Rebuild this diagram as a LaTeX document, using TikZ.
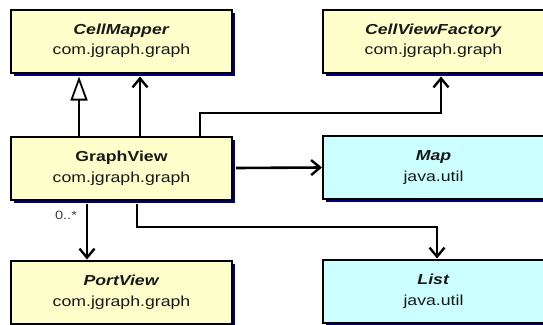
\documentclass[tikz,border=0pt]{standalone}
\usepackage{fontspec}
\setmainfont[FakeStretch=1.22]{Liberation Sans}
\usetikzlibrary{arrows.meta,shadows}
\definecolor{boxyellow}{RGB}{255,255,204}
\definecolor{boxcyan}{RGB}{204,255,255}
\definecolor{shadownavy}{RGB}{0,0,128}
\begin{document}
\begin{tikzpicture}[x=1pt,y=-1pt,
  classbox/.style={draw=black,line width=2pt,minimum width=221pt,minimum height=63pt,
    align=center,inner sep=0pt,font=\fontsize{14.5}{20.5}\selectfont,text=black!90,
    drop shadow={shadow xshift=3pt,shadow yshift=-3pt,fill=shadownavy,opacity=1}},
  ybox/.style={classbox,fill=boxyellow},
  cbox/.style={classbox,fill=boxcyan},
  assoc/.style={line width=2.6pt,-{Straight Barb[length=9pt,width=15pt,line width=2.4pt]}},
  gen/.style={line width=1.8pt,-{Triangle[open,length=24pt,width=17pt,line width=1.8pt,fill=white]}},
  mult/.style={font=\fontsize{12}{14}\selectfont,text=black!75,inner sep=0pt}]
\useasboundingbox (0,0) rectangle (543,324);
\fill[white] (0,0) rectangle (543,324);

\node[ybox] (cm) at (121.5,41) {\textbf{\textit{CellMapper}}\\com.jgraph.graph};
\node[ybox] (cvf) at (433.5,41) {\textbf{\textit{CellViewFactory}}\\com.jgraph.graph};
\node[ybox] (gv) at (121.5,168) {\textbf{GraphView}\\com.jgraph.graph};
\node[cbox] (map) at (433.5,167.5) {\textbf{\textit{Map}}\\java.util};
\node[ybox] (pv) at (121.5,292) {\textbf{\textit{PortView}}\\com.jgraph.graph};
\node[cbox] (list) at (433.5,291) {\textbf{\textit{List}}\\java.util};

\coordinate (xa) at (79,0);
\coordinate (xb) at (140,0);
\coordinate (xc) at (200,0);
\coordinate (xd) at (441,0);
\coordinate (ym) at (0,113);
\coordinate (xe) at (137,0);
\coordinate (xf) at (437,0);
\coordinate (yl) at (0,227);
\coordinate (xg) at (87,0);
\coordinate (ml) at (66,215);

\draw[gen] (gv.north -| xa) -- ([yshift=-3pt]cm.south -| xa);
\draw[assoc] (gv.north -| xb) -- ([yshift=-3pt]cm.south -| xb);
\draw[assoc] (gv.north -| xc) |- (xd |- ym) -- ([yshift=-3pt]cvf.south -| xd);
\draw[assoc] ([xshift=3pt]gv.east) -- (map.west);
\draw[assoc] ([yshift=-3pt]gv.south -| xe) |- (xf |- yl) -- (list.north -| xf);
\draw[assoc] ([yshift=-3pt]gv.south -| xg) -- (pv.north -| xg);
\node[mult] (m) at (ml) {0..*};
\end{tikzpicture}
\end{document}
